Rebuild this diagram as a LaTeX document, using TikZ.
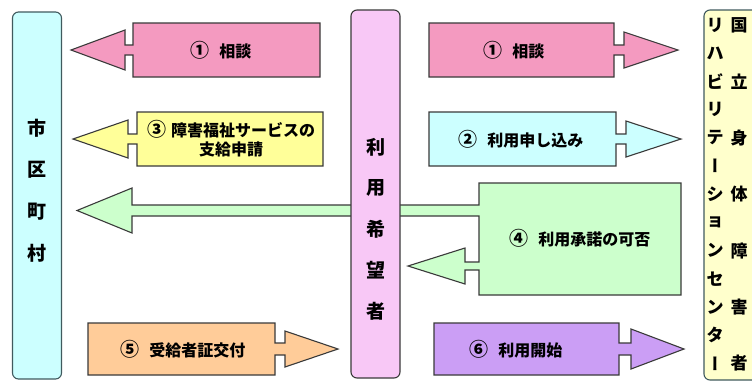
\documentclass[tikz,border=0pt]{standalone}
\usepackage{fontspec}
\newfontfamily\jp{Noto Sans CJK JP}
\newfontfamily\jpv{Noto Sans CJK JP}[RawFeature=+vert]
\definecolor{cityfill}{HTML}{CCFFFF}
\definecolor{userfill}{HTML}{F8C8F6}
\definecolor{centerfill}{HTML}{FFFFCC}
\definecolor{pinkfill}{HTML}{F49AC0}
\definecolor{yellowfill}{HTML}{FFFF99}
\definecolor{cyanfill}{HTML}{CCFFFF}
\definecolor{greenfill}{HTML}{CCFFCC}
\definecolor{orangefill}{HTML}{FFCC99}
\definecolor{purplefill}{HTML}{CB9EF5}
\definecolor{edge}{HTML}{3A3A3A}
\definecolor{sideedge}{HTML}{405A5E}
\tikzset{
  arrowbox/.style={draw=edge, line width=1.1pt, line join=miter},
  sidebox/.style={draw=sideedge, line width=1.1pt, rounded corners=6pt},
  lbl/.style={font=\jp\bfseries\fontsize{16}{19}\selectfont, align=center, inner sep=0pt},
  sidech/.style={font=\jp\bfseries\fontsize{19}{20}\selectfont, inner sep=0pt},
  rch/.style={font=\jp\bfseries\fontsize{17}{18}\selectfont, inner sep=0pt}
}
\newcommand{\mycirc}[1]{{\fontsize{19}{19}\selectfont #1}}
% left-pointing block arrow: xl, xr, yt, yb, xbase, xtip, headhalf, neckhalf, fill
\newcommand{\myblockL}[9]{%
  \pgfmathsetmacro\myyc{(#3+#4)/2}%
  \draw[arrowbox, fill=#9] (#2,#3) -- (#1,#3) -- (#1,\myyc-#8) -- (#5,\myyc-#8) -- (#5,\myyc-#7)
    -- (#6,\myyc) -- (#5,\myyc+#7) -- (#5,\myyc+#8) -- (#1,\myyc+#8) -- (#1,#4) -- (#2,#4) -- cycle;}
% right-pointing block arrow: xl, xr, yt, yb, xbase, xtip, headhalf, neckhalf, fill
\newcommand{\myblockR}[9]{%
  \pgfmathsetmacro\myyc{(#3+#4)/2}%
  \draw[arrowbox, fill=#9] (#1,#3) -- (#2,#3) -- (#2,\myyc-#8) -- (#5,\myyc-#8) -- (#5,\myyc-#7)
    -- (#6,\myyc) -- (#5,\myyc+#7) -- (#5,\myyc+#8) -- (#2,\myyc+#8) -- (#2,#4) -- (#1,#4) -- cycle;}
\begin{document}
\begin{tikzpicture}[x=1pt, y=-1pt]
\clip (0,0) rectangle (752,381);
\fill[white] (0,0) rectangle (752,381);

% left side box
\node[sidebox, fill=cityfill, minimum width=49pt, minimum height=367pt] (city) at (37,195.5) {};
\node[sidech] (c1) at (37,128) {市};
\node[sidech] (c2) at (37,170) {区};
\node[sidech] (c3) at (37,212) {町};
\node[sidech] (c4) at (37,253) {村};

% right side box (cut off)
\draw[sidebox, fill=centerfill] (704,10) rectangle (790,380);
\foreach \ch [count=\i from 0] in {リ,ハ,ビ,リ,テ,{\jpv ー},シ,ョ,ン,セ,ン,タ,{\jpv ー}}{
  \node[rch] at (715,25+\i*28.2) {\ch};
}
\foreach \ch [count=\i from 0] in {国,立,身,体,障,害,者}{
  \node[rch] at (739,25+\i*56.4) {\ch};
}

% arrows to the city
\myblockL{133}{320}{23}{77}{125}{71}{20}{5}{pinkfill}
\node[lbl] (a1) at (221,50) {\mycirc{①}\hspace{0.6em}相談};
\myblockL{137}{323}{112}{166}{128}{73}{19}{5}{yellowfill}
\node[lbl] (a3) at (231,139) {\mycirc{③}\hspace{5pt}障害福祉サービスの\\支給申請};

% green shape (box, long shaft to city, small head to user)
\draw[arrowbox, fill=greenfill] (681,183) -- (479,183) -- (479,205) -- (132,205) -- (132,188)
  -- (77,210.5) -- (132,233) -- (132,216) -- (479,216) -- (479,262) -- (465,262) -- (465,248)
  -- (408,266) -- (465,284) -- (465,270) -- (479,270) -- (479,295) -- (681,295) -- cycle;
\node[lbl] (a4) at (580,238) {\mycirc{④}\hspace{0.6em}利用承諾の可否};

% orange arrow
\myblockR{88}{275}{323}{375}{285}{338}{18}{6}{orangefill}
\node[lbl] (a5) at (183,349) {\mycirc{⑤}\hspace{0.6em}受給者証交付};

% arrows to the center
\myblockR{429}{614}{23}{77}{624}{678}{18}{5}{pinkfill}
\node[lbl] (b1) at (514,50) {\mycirc{①}\hspace{0.6em}相談};
\myblockR{429}{616}{112}{166}{626}{681}{18}{5}{cyanfill}
\node[lbl] (b2) at (521,139) {\mycirc{②}\hspace{0.6em}利用申し込み};
\myblockR{434}{619}{323}{375}{631}{684}{20}{6}{purplefill}
\node[lbl] (b6) at (516,349) {\mycirc{⑥}\hspace{0.6em}利用開始};

% middle user box (on top of shaft)
\node[sidebox, draw=edge, fill=userfill, minimum width=49pt, minimum height=368pt] (user) at (375.5,194) {};
\node[sidech] (u1) at (375.5,147) {利};
\node[sidech] (u2) at (375.5,188) {用};
\node[sidech] (u3) at (375.5,229) {希};
\node[sidech] (u4) at (375.5,270) {望};
\node[sidech] (u5) at (375.5,311) {者};
\end{tikzpicture}
\end{document}
